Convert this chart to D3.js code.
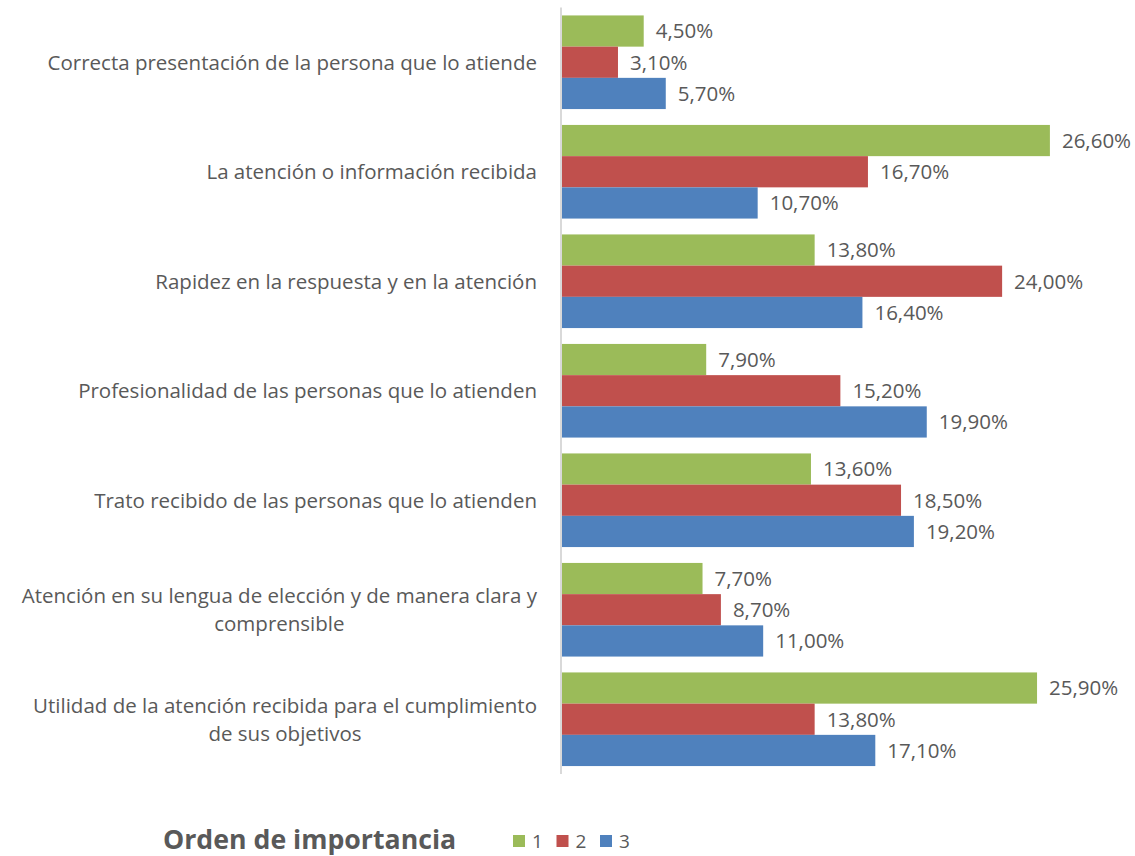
<!DOCTYPE html>
<html>
<head>
<meta charset="utf-8">
<script src="https://cdn.jsdelivr.net/npm/d3@7"></script>
<style>
  html, body { margin: 0; padding: 0; background: #fff; }
  svg { display: block; font-family: "Open Sans", "Noto Sans", sans-serif; }
</style>
</head>
<body>
<svg id="chart" width="1135" height="856"></svg>
<script>
// Categories (each entry split into the lines it is drawn on)
const categories = [
  ["Correcta presentación de la persona que lo atiende"],
  ["La atención o información recibida"],
  ["Rapidez en la respuesta y en la atención"],
  ["Profesionalidad de las personas que lo atienden"],
  ["Trato recibido de las personas que lo atienden"],
  ["Atención en su lengua de elección y de manera clara y", "comprensible"],
  ["Utilidad de la atención recibida para el cumplimiento", "de sus objetivos"]
];

// Percentages per importance rank
const series1 = [4.5, 26.6, 13.8, 7.9, 13.6, 7.7, 25.9];
const series2 = [3.1, 16.7, 24.0, 15.2, 18.5, 8.7, 13.8];
const series3 = [5.7, 10.7, 16.4, 19.9, 19.2, 11.0, 17.1];

const seriesNames = ["1", "2", "3"];
const seriesColors = ["#9BBB59", "#C0504D", "#4F81BD"];
const legendTitle = "Orden de importancia";

const svg = d3.select("#chart");
const textColor = "#595959";
const fontSize = 20.5;

const catIdx = d3.range(categories.length);
const allSeries = [series1, series2, series3];

const x = d3.scaleLinear().domain([0, 30]).range([561, 561 + 30 * 18.38]);
const y = d3.scaleBand().domain(catIdx).range([7.5, 774])
  .paddingInner(0.145).paddingOuter(0.0725);
const ySub = d3.scaleBand().domain(d3.range(allSeries.length)).range([0, y.bandwidth()]);

const fmt = v => d3.format(".2f")(v).replace(".", ",") + "%";

// Bars, grouped per category
const groups = svg.append("g").selectAll("g")
  .data(catIdx).join("g")
  .attr("transform", i => `translate(0,${y(i)})`);

groups.selectAll("rect")
  .data(i => allSeries.map((s, k) => ({ k, v: s[i] })))
  .join("rect")
  .attr("x", x(0))
  .attr("y", d => ySub(d.k))
  .attr("width", d => x(d.v) - x(0))
  .attr("height", ySub.bandwidth())
  .attr("fill", d => seriesColors[d.k]);

// Value labels
groups.selectAll("text.val")
  .data(i => allSeries.map((s, k) => ({ k, v: s[i] })))
  .join("text")
  .attr("class", "val")
  .attr("x", d => x(d.v) + 12)
  .attr("y", d => ySub(d.k) + ySub.bandwidth() / 2)
  .attr("dy", "0.36em")
  .attr("font-size", fontSize)
  .attr("fill", textColor)
  .text(d => fmt(d.v));

// Category axis line
const axisG = svg.append("g").attr("transform", `translate(${x(0)},0)`);
axisG.call(d3.axisLeft(y).tickSize(0).tickFormat(""));
axisG.select(".domain").attr("stroke", "#d9d9d9").attr("stroke-width", 2)
  .attr("d", `M0,${y.range()[0]}V${y.range()[1]}`);

// Category labels (multi-line labels are centred as a block, right edge at the axis)
const labelRight = 537;
const lineH = 28;
const catG = svg.append("g");
categories.forEach((lines, i) => {
  const cy = y(i) + y.bandwidth() / 2;
  const t = catG.append("text")
    .attr("font-size", fontSize)
    .attr("fill", textColor);
  const spans = lines.map((ln, j) => t.append("tspan")
    .attr("y", cy + (j - (lines.length - 1) / 2) * lineH)
    .attr("dy", "0.36em")
    .text(ln));
  const widths = spans.map(s => s.node().getComputedTextLength());
  const maxW = d3.max(widths);
  const center = labelRight - maxW / 2;
  spans.forEach((s) => s.attr("x", center).attr("text-anchor", "middle"));
});

// Legend
const legend = svg.append("g");
legend.append("text")
  .attr("x", 163).attr("y", 849)
  .attr("font-size", 26.7).attr("font-weight", "bold")
  .attr("fill", textColor)
  .text(legendTitle);

const legendX = d3.scalePoint().domain(seriesNames).range([513, 600]);
const items = legend.selectAll("g.item").data(seriesNames).join("g")
  .attr("class", "item")
  .attr("transform", d => `translate(${legendX(d)},835)`);
items.append("rect").attr("width", 12).attr("height", 12)
  .attr("fill", (d, i) => seriesColors[i]);
items.append("text").attr("x", 19).attr("y", 6).attr("dy", "0.36em")
  .attr("font-size", 19).attr("fill", textColor)
  .text(d => d);
</script>
</body>
</html>
